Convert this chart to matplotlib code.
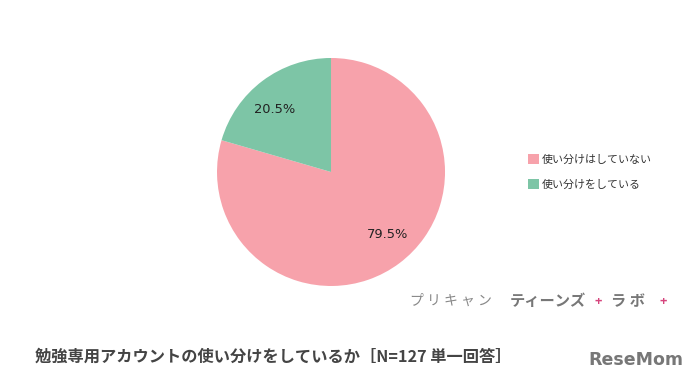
import numpy as np
import matplotlib.pyplot as plt
from matplotlib.patches import Patch

plt.rcParams['font.family'] = ['Noto Sans CJK JP', 'DejaVu Sans']

labels = ['使い分けはしていない', '使い分けをしている']
values = [79.5, 20.5]
colors = ['#F7A2AB', '#7DC5A6']

fig = plt.figure(figsize=(6.96, 3.90), dpi=100)
ax = fig.add_axes([0.4756 - 0.1638, 0.559 - 0.2923, 0.3276, 0.5846])
wedges, texts, autotexts = ax.pie(values, colors=colors, startangle=90, counterclock=False,
                                  autopct='%.1f%%', pctdistance=0.74,
                                  textprops=dict(fontsize=9.4, color='#222222', family='DejaVu Sans'))
# labels sit a little anticlockwise of the wedge middle, like the original
for w, t in zip(wedges, autotexts):
    mid = np.deg2rad((w.theta1 + w.theta2) / 2 + 5.5)
    t.set_position((0.74 * np.cos(mid), 0.74 * np.sin(mid)))
ax.set_xlim(-1, 1)
ax.set_ylim(-1, 1)
ax.set_aspect('equal')

handles = [Patch(facecolor=c, edgecolor='none') for c in colors]
fig.legend(handles, labels, loc='center left', bbox_to_anchor=(0.745, 0.559), frameon=False,
           fontsize=7.9, handlelength=0.95, handleheight=0.95, handletextpad=0.25, labelspacing=1.35,
           labelcolor='#333333')

fig.text(35 / 696, 1 - 357 / 390, '勉強専用アカウントの使い分けをしているか［N=127 単一回答］',
         fontsize=11.7, fontweight='bold', color='#444444', va='center', ha='left')

# logo text
fig.text(410 / 696, 1 - 301 / 390, 'プ リ キ ャ ン', fontsize=10, color='#888888',
         va='center', ha='left')
fig.text(510 / 696, 1 - 301 / 390, 'ティーンズ', fontsize=11, color='#777777',
         va='center', ha='left', fontweight='bold')
fig.text(598 / 696, 1 - 301 / 390, '+', fontsize=9, color='#D6457D', va='center', ha='center', fontweight='bold')
fig.text(628 / 696, 1 - 301 / 390, 'ラ ボ', fontsize=11, color='#777777', va='center', ha='center', fontweight='bold')
fig.text(663 / 696, 1 - 301 / 390, '+', fontsize=9, color='#D6457D', va='center', ha='center', fontweight='bold')

fig.text(588 / 696, 1 - 360 / 390, 'ReseMom', fontsize=12.5, color='#777777',
         va='center', ha='left', fontweight='bold', family='Liberation Sans Narrow')

fig.savefig('out.png', dpi=100, facecolor='white')
